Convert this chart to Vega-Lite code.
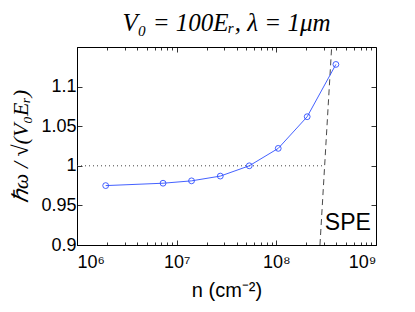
{
  "$schema": "https://vega.github.io/schema/vega-lite/v6.json",
  "width": 299,
  "height": 198,
  "autosize": "none",
  "padding": {"left": 77, "top": 47, "right": 39, "bottom": 67},
  "background": "white",
  "title": {
    "text": "V₀ = 100Eᵣ, λ = 1μm",
    "font": "Liberation Serif",
    "fontStyle": "italic",
    "fontWeight": "normal",
    "fontSize": 25,
    "color": "black",
    "offset": 9,
    "anchor": "middle"
  },
  "datasets": {
    "pts": [
      {"n": 1940000, "w": 0.975},
      {"n": 7300000, "w": 0.978},
      {"n": 14100000, "w": 0.981},
      {"n": 27400000, "w": 0.987},
      {"n": 53500000, "w": 1.0},
      {"n": 104500000, "w": 1.022},
      {"n": 204000000, "w": 1.062},
      {"n": 396000000, "w": 1.128}
    ],
    "spe": [
      {"n": 274000000, "w": 0.9},
      {"n": 359000000, "w": 1.15}
    ],
    "ref": [
      {"n": 1000000, "n2": 295000000, "w": 1.0}
    ],
    "lab": [
      {"n": 522000000, "w": 0.9278, "t": "SPE"}
    ]
  },
  "resolve": {"axis": {"x": "independent", "y": "independent"}},
  "layer": [
    {
      "data": {"name": "ref"},
      "mark": {"type": "rule", "strokeDash": [1, 3], "color": "#444", "strokeWidth": 1},
      "encoding": {
        "x": {
          "field": "n", "type": "quantitative",
          "scale": {"type": "log", "domain": [1000000, 1000000000], "nice": false},
          "axis": {
            "orient": "bottom",
            "values": [1000000, 10000000, 100000000, 1000000000],
            "labelExpr": "datum.value < 5000000 ? '10⁶' : datum.value < 50000000 ? '10⁷' : datum.value < 500000000 ? '10⁸' : '10⁹'",
            "tickSize": -5,
            "labelPadding": 13,
            "labelFontSize": 18,
            "title": "n (cm⁻²)",
            "titleFontSize": 20,
            "titlePadding": 9
          }
        },
        "x2": {"field": "n2"},
        "y": {
          "field": "w", "type": "quantitative",
          "scale": {"domain": [0.9, 1.15], "nice": false, "zero": false},
          "axis": {
            "orient": "left",
            "values": [0.9, 0.95, 1, 1.05, 1.1],
            "format": "~g",
            "tickSize": -5,
            "labelPadding": 6,
            "labelFontSize": 18,
            "title": "ℏω / √(V₀Eᵣ)",
            "titleFont": "Liberation Serif",
            "titleFontStyle": "italic",
            "titleFontSize": 22,
            "titlePadding": 8
          }
        }
      }
    },
    {
      "data": {"name": "spe"},
      "mark": {"type": "line", "strokeDash": [6, 4], "color": "#333", "strokeWidth": 0.9},
      "encoding": {
        "x": {
          "field": "n", "type": "quantitative",
          "axis": {"orient": "top", "values": [1000000, 10000000, 100000000, 1000000000], "labels": false, "tickSize": -5, "domain": false, "title": null}
        },
        "y": {
          "field": "w", "type": "quantitative",
          "axis": {"orient": "right", "values": [0.9, 0.95, 1, 1.05, 1.1], "labels": false, "tickSize": -5, "domain": false, "title": null}
        }
      }
    },
    {
      "data": {"name": "pts"},
      "mark": {"type": "line", "color": "#2f4fff", "strokeWidth": 0.9, "point": {"filled": false, "size": 34, "strokeWidth": 0.9, "color": "#2f4fff"}},
      "encoding": {
        "x": {
          "field": "n", "type": "quantitative",
          "axis": {"orient": "bottom", "values": [2000000, 3000000, 4000000, 5000000, 6000000, 7000000, 8000000, 9000000, 20000000, 30000000, 40000000, 50000000, 60000000, 70000000, 80000000, 90000000, 200000000, 300000000, 400000000, 500000000, 600000000, 700000000, 800000000, 900000000], "labels": false, "tickSize": -3, "domain": false, "title": null}
        },
        "y": {"field": "w", "type": "quantitative", "axis": null}
      }
    },
    {
      "data": {"name": "lab"},
      "mark": {"type": "text", "font": "Liberation Sans", "fontSize": 23, "align": "center", "baseline": "middle", "color": "black"},
      "encoding": {
        "x": {
          "field": "n", "type": "quantitative",
          "axis": {"orient": "top", "values": [2000000, 3000000, 4000000, 5000000, 6000000, 7000000, 8000000, 9000000, 20000000, 30000000, 40000000, 50000000, 60000000, 70000000, 80000000, 90000000, 200000000, 300000000, 400000000, 500000000, 600000000, 700000000, 800000000, 900000000], "labels": false, "tickSize": -3, "domain": false, "title": null}
        },
        "y": {"field": "w", "type": "quantitative", "axis": null},
        "text": {"field": "t"}
      }
    }
  ],
  "config": {
    "view": {"stroke": "black", "strokeWidth": 1},
    "axis": {
      "grid": false,
      "domainColor": "black",
      "tickColor": "black",
      "labelColor": "black",
      "titleColor": "black",
      "labelFont": "Liberation Sans",
      "titleFont": "Liberation Sans",
      "titleFontWeight": "normal",
      "tickWidth": 0.8,
      "domainWidth": 1
    }
  }
}
